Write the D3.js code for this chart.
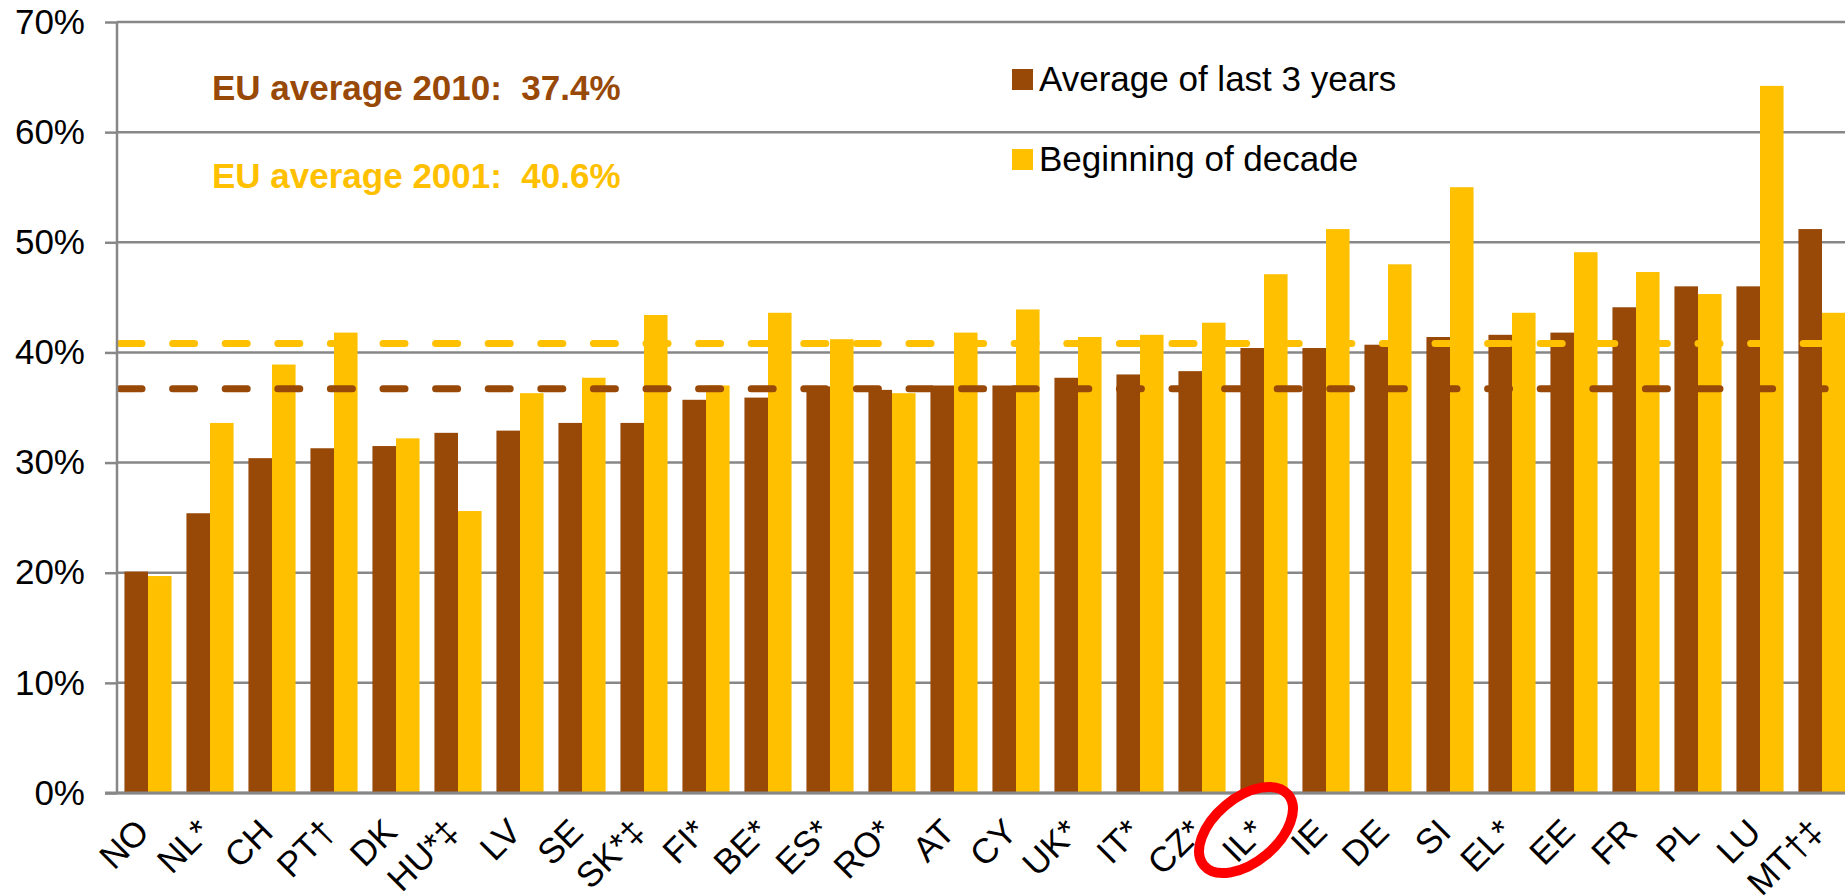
<!DOCTYPE html>
<html>
<head>
<meta charset="utf-8">
<script src="https://cdn.jsdelivr.net/npm/d3@7"></script>
<style>
  body { margin: 0; background: #fff; }
  svg { display: block; font-family: "Liberation Sans", Arial, sans-serif; }
</style>
</head>
<body>
<script>
var categories = ["NO", "NL*", "CH", "PT\u2020", "DK", "HU*\u2021", "LV", "SE", "SK*\u2021", "FI*", "BE*", "ES*", "RO*", "AT", "CY", "UK*", "IT*", "CZ*", "IL*", "IE", "DE", "SI", "EL*", "EE", "FR", "PL", "LU", "MT\u2020\u2021"];
var last3 = [20.1, 25.4, 30.4, 31.3, 31.5, 32.7, 32.9, 33.6, 33.6, 35.7, 35.9, 36.9, 36.6, 37.0, 37.0, 37.7, 38.0, 38.3, 40.4, 40.4, 40.7, 41.4, 41.6, 41.8, 44.1, 46.0, 46.0, 51.2];
var decade = [19.7, 33.6, 38.9, 41.8, 32.2, 25.6, 36.3, 37.7, 43.4, 37.0, 43.6, 41.2, 36.3, 41.8, 43.9, 41.4, 41.6, 42.7, 47.1, 51.2, 48.0, 55.0, 43.6, 49.1, 47.3, 45.3, 64.2, 43.6];
var seriesNames = ["Average of last 3 years", "Beginning of decade"];
var yTicks = [0, 10, 20, 30, 40, 50, 60, 70];
var avgLines = [36.7, 40.8];
var avgTexts = ["EU average 2010:  37.4%", "EU average 2001:  40.6%"];

var width = 1845,
    height = 895,
    plotLeft = 117,
    plotRight = 1853,
    plotTop = 22,
    plotBottom = 793;

var brown = "#984807",
    gold = "#FFC000",
    grid = "#878787";

var svg = d3.select("body").append("svg")
    .attr("width", width)
    .attr("height", height);

var x = d3.scaleBand()
    .domain(categories)
    .range([plotLeft, plotRight])
    .paddingInner(0.24)
    .paddingOuter(0.12);

var x1 = d3.scaleBand()
    .domain([0, 1])
    .range([0, x.bandwidth()]);

var y = d3.scaleLinear()
    .domain([0, 70])
    .range([plotBottom, plotTop]);

// gridlines
svg.append("g").selectAll("line")
    .data(yTicks)
    .enter().append("line")
    .attr("x1", plotLeft)
    .attr("x2", width)
    .attr("y1", function(d) { return y(d); })
    .attr("y2", function(d) { return y(d); })
    .style("stroke", grid)
    .style("stroke-width", 2.5);

// bars
var rows = categories.map(function(c, i) { return {cat: c, vals: [last3[i], decade[i]]}; });
var colors = [brown, gold];

svg.append("g").selectAll("g")
    .data(rows)
    .enter().append("g")
    .attr("transform", function(d) { return "translate(" + x(d.cat) + ",0)"; })
    .selectAll("rect")
    .data(function(d) { return d.vals; })
    .enter().append("rect")
    .attr("x", function(d, i) { return x1(i); })
    .attr("width", x1.bandwidth())
    .attr("y", function(d) { return y(d); })
    .attr("height", function(d) { return plotBottom - y(d); })
    .style("fill", function(d, i) { return colors[i]; });

// EU average dashed lines
svg.append("g").selectAll("line")
    .data(avgLines)
    .enter().append("line")
    .attr("x1", plotLeft + 3)
    .attr("x2", width)
    .attr("y1", function(d) { return y(d); })
    .attr("y2", function(d) { return y(d); })
    .style("stroke", function(d, i) { return colors[i]; })
    .style("stroke-width", 7)
    .style("stroke-linecap", "round")
    .style("stroke-dasharray", "22,30.6");

// axes
var yAxis = d3.axisLeft(y)
    .tickValues(yTicks)
    .tickSize(12)
    .tickPadding(20)
    .tickFormat(function(d) { return d + "%"; });

var gy = svg.append("g")
    .attr("transform", "translate(" + plotLeft + ",0)")
    .call(yAxis);
gy.select(".domain").remove();
gy.append("line")
    .attr("y1", plotTop)
    .attr("y2", plotBottom)
    .style("stroke", grid)
    .style("stroke-width", 2.5);
gy.selectAll(".tick line").style("stroke", grid).style("stroke-width", 2.5);
gy.selectAll(".tick text")
    .style("font-size", "35px")
    .style("fill", "#000")
    .style("font-family", "Liberation Sans, Arial, sans-serif");

svg.append("line")
    .attr("x1", plotLeft - 12)
    .attr("x2", width)
    .attr("y1", plotBottom)
    .attr("y2", plotBottom)
    .style("stroke", grid)
    .style("stroke-width", 3);

// category labels
svg.append("g").selectAll("text")
    .data(categories)
    .enter().append("text")
    .attr("transform", function(d) {
        return "translate(" + (x(d) + x.bandwidth() / 2 + 3) + "," + (plotBottom + 41) + ") rotate(-45)";
    })
    .attr("text-anchor", "end")
    .style("font-size", "35px")
    .text(function(d) { return d; });

// highlight around IL*
var ilx = x("IL*") + x.bandwidth() / 2 - 18;
svg.append("ellipse")
    .attr("cx", ilx)
    .attr("cy", 830)
    .attr("rx", 55)
    .attr("ry", 32)
    .attr("transform", "rotate(-40," + ilx + ",830)")
    .style("fill", "none")
    .style("stroke", "#FF0000")
    .style("stroke-width", 10);

// EU average labels
svg.append("g").selectAll("text")
    .data(avgTexts)
    .enter().append("text")
    .attr("x", 212)
    .attr("y", function(d, i) { return 100 + i * 88; })
    .style("font-size", "35px")
    .style("font-weight", "bold")
    .style("white-space", "pre")
    .style("fill", function(d, i) { return colors[i]; })
    .text(function(d) { return d; });

// legend
var legend = svg.append("g").selectAll("g")
    .data(seriesNames)
    .enter().append("g")
    .attr("transform", function(d, i) { return "translate(1012," + (69 + i * 80) + ")"; });

legend.append("rect")
    .attr("width", 21)
    .attr("height", 21)
    .style("fill", function(d, i) { return colors[i]; });

legend.append("text")
    .attr("x", 27)
    .attr("y", 22)
    .style("font-size", "35px")
    .text(function(d) { return d; });
</script>
</body>
</html>
